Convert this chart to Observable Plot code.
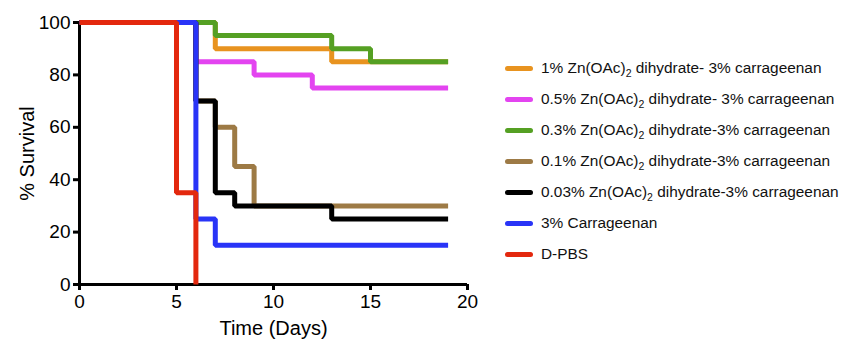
<!DOCTYPE html>
<html>
<head>
<meta charset="utf-8">
<script src="https://cdn.jsdelivr.net/npm/d3@7"></script>
<script src="https://cdn.jsdelivr.net/npm/@observablehq/plot@0.6"></script>
<style>
  html, body { margin: 0; padding: 0; background: #fff; }
  #wrap { position: relative; width: 846px; height: 346px; font-family: "Liberation Sans", Arial, Helvetica, sans-serif; }
  #chart { position: absolute; left: 0; top: 0; }
  .row { position: absolute; left: 505px; height: 20px; display: flex; align-items: center; white-space: nowrap; font-size: 15.4px; color: #111; }
  .sw { display: inline-block; width: 28px; height: 5px; border-radius: 3px; margin-right: 8px; }
  sub { font-size: 10.5px; vertical-align: -4px; line-height: 0; }
</style>
</head>
<body>
<div id="wrap"><div id="chart"></div><div id="legend"></div></div>
<script>
// Series labels (legend order) and colours
const seriesNames = [
  "1% Zn(OAc)<sub>2</sub> dihydrate- 3% carrageenan",
  "0.5% Zn(OAc)<sub>2</sub> dihydrate- 3% carrageenan",
  "0.3% Zn(OAc)<sub>2</sub> dihydrate-3% carrageenan",
  "0.1% Zn(OAc)<sub>2</sub> dihydrate-3% carrageenan",
  "0.03% Zn(OAc)<sub>2</sub> dihydrate-3% carrageenan",
  "3% Carrageenan",
  "D-PBS"
];
const seriesColors = ["#E8931F", "#E344F0", "#55A023", "#9D7A45", "#000000", "#2934F7", "#E3280E"];

// Kaplan–Meier step data: day of change and % survival from that day
const days1 = [0, 7, 13, 19];           const surv1 = [100, 90, 85, 85];
const days05 = [0, 6, 9, 12, 19];       const surv05 = [100, 85, 80, 75, 75];
const days03 = [0, 7, 13, 15, 19];      const surv03 = [100, 95, 90, 85, 85];
const days01 = [0, 6, 7, 8, 9, 19];     const surv01 = [100, 70, 60, 45, 30, 30];
const days003 = [0, 6, 7, 8, 13, 19];   const surv003 = [100, 70, 35, 30, 25, 25];
const daysCarr = [0, 6, 7, 19];         const survCarr = [100, 25, 15, 15];
const daysPBS = [0, 5, 6];              const survPBS = [100, 35, 0];

const xTicks = [0, 5, 10, 15, 20];
const yTicks = [0, 20, 40, 60, 80, 100];

const allDays = [days1, days05, days03, days01, days003, daysCarr, daysPBS];
const allSurv = [surv1, surv05, surv03, surv01, surv003, survCarr, survPBS];

const lineMarks = allDays.map((ds, i) =>
  Plot.line(ds.map((d, j) => ({day: d, surv: allSurv[i][j]})), {
    x: "day", y: "surv", curve: "step-after",
    stroke: seriesColors[i], strokeWidth: 5, strokeLinejoin: "miter", strokeLinecap: "butt"
  })
);

const chart = Plot.plot({
  width: 480,
  height: 346,
  marginLeft: 79,
  marginRight: 13,
  marginTop: 22,
  marginBottom: 62,
  style: {fontFamily: "'Liberation Sans', Arial, Helvetica, sans-serif", fontSize: "19px", color: "#000", background: "#fff"},
  x: {domain: [0, 20]},
  y: {domain: [0, 100]},
  marks: [
    Plot.axisX({ticks: xTicks, tickSize: 6, tickPadding: 4, strokeWidth: 3, fontSize: 19,
      label: "Time (Days)", labelAnchor: "center", labelArrow: "none", labelOffset: 50}),
    Plot.axisY({ticks: yTicks, tickSize: 6, tickPadding: 3, strokeWidth: 3, fontSize: 19,
      label: "% Survival", labelAnchor: "center", labelArrow: "none", labelOffset: 60}),
    Plot.ruleY([0], {stroke: "#000", strokeWidth: 3}),
    Plot.ruleX([0], {stroke: "#000", strokeWidth: 3}),
    ...lineMarks
  ]
});
document.getElementById("chart").appendChild(chart);
chart.querySelectorAll("[aria-label='x-axis label'] text, [aria-label='y-axis label'] text").forEach(t => t.style.fontSize = "20px");

const legend = document.getElementById("legend");
seriesNames.forEach((name, i) => {
  const row = document.createElement("div");
  row.className = "row";
  row.style.top = (58 + i * 31) + "px";
  row.innerHTML = `<span class="sw" style="background:${seriesColors[i]}"></span><span>${name}</span>`;
  legend.appendChild(row);
});
</script>
</body>
</html>
